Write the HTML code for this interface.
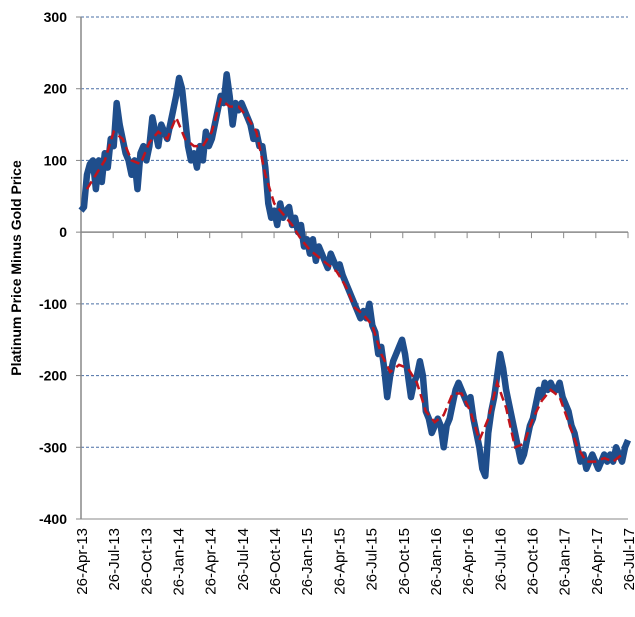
<!DOCTYPE html>
<html><head><meta charset="utf-8"><style>
body{margin:0;background:#fff}
svg{display:block;font-family:"Liberation Sans",sans-serif}
</style></head><body>
<svg id="chart" width="635" height="617"></svg>
<script>
const yTicks=[300,200,100,0,-100,-200,-300,-400];
const xLabels=["26-Apr-13","26-Jul-13","26-Oct-13","26-Jan-14","26-Apr-14","26-Jul-14","26-Oct-14","26-Jan-15","26-Apr-15","26-Jul-15","26-Oct-15","26-Jan-16","26-Apr-16","26-Jul-16","26-Oct-16","26-Jan-17","26-Apr-17","26-Jul-17"];
const spread=[30,35,80,95,100,60,100,70,110,90,130,120,180,150,130,110,100,80,100,60,110,120,100,120,160,140,120,150,140,130,150,170,190,215,200,160,120,100,110,90,120,100,140,120,130,150,170,190,180,220,190,150,180,170,180,170,160,150,130,140,120,120,90,40,20,30,10,40,20,30,35,10,20,0,10,-20,-10,-30,-10,-40,-20,-30,-40,-50,-30,-40,-50,-45,-60,-70,-80,-90,-100,-110,-120,-110,-120,-100,-130,-140,-170,-160,-190,-230,-200,-180,-170,-160,-150,-170,-200,-230,-210,-200,-180,-200,-250,-260,-280,-270,-260,-270,-300,-270,-260,-240,-220,-210,-220,-230,-240,-230,-260,-280,-300,-330,-340,-280,-250,-230,-200,-170,-190,-220,-240,-260,-280,-300,-320,-310,-290,-270,-260,-240,-220,-230,-210,-220,-210,-220,-220,-210,-230,-240,-250,-270,-280,-300,-320,-310,-330,-320,-310,-320,-330,-320,-310,-320,-310,-320,-300,-310,-320,-300,-290];
const movingAvg=[60,80,100,140,130,100,95,125,140,130,160,130,120,120,140,185,175,175,160,140,80,40,25,10,-10,-25,-35,-45,-55,-75,-105,-115,-130,-170,-195,-185,-190,-210,-250,-265,-255,-225,-225,-250,-290,-260,-210,-245,-300,-295,-260,-235,-220,-230,-265,-300,-320,-320,-315,-320,-310];
const NS="http://www.w3.org/2000/svg";
const svg=document.getElementById('chart');
const X0=81,X1=628,Y0=17,Y1=519;
const nPts=spread.length;
function xs(i){return X0+i*(X1-X0)/(nPts-1);}
function ys(v){return Y0+(300-v)*(Y1-Y0)/700;}
function mk(t,a){const e=document.createElementNS(NS,t);for(const k in a)e.setAttribute(k,a[k]);svg.appendChild(e);return e;}
yTicks.forEach(v=>{
  if(v!==0 && v!==-400){const g=mk('line',{x1:X0,x2:X1,y1:ys(v),y2:ys(v),stroke:'#4a6fa5','stroke-width':1,'stroke-dasharray':'3,2'});
  
  }
  const t=mk('text',{x:67,y:ys(v)+5,'text-anchor':'end','font-size':14,'font-weight':'bold',fill:'#000'});
  t.textContent=v;
  
  
});
const ya=mk('line',{x1:X0,x2:X0,y1:Y0,y2:Y1,stroke:'#888','stroke-width':1.5});


const xa=mk('line',{x1:X0,x2:X1,y1:ys(0),y2:ys(0),stroke:'#888','stroke-width':1.5});


const xb=mk('line',{x1:X0,x2:X1,y1:Y1,y2:Y1,stroke:'#888','stroke-width':1});


yTicks.forEach(v=>{const l=mk('line',{x1:X0-5,x2:X0,y1:ys(v),y2:ys(v),stroke:'#888'});

});
const qStep=(X1-X0)/(xLabels.length-1);
xLabels.forEach((s,i)=>{
  const x=X0+i*qStep;
  const tk=mk('line',{x1:x,x2:x,y1:ys(0),y2:ys(0)+6,stroke:'#888'});
  
  
  const t=mk('text',{x:0,y:0,transform:`translate(${x+6},528) rotate(-90)`,'text-anchor':'end','font-size':15,fill:'#000'});
  t.textContent=s;
  
  
});
const yl=mk('text',{x:0,y:0,transform:'translate(21,268) rotate(-90)','text-anchor':'middle','font-size':14,'font-weight':'bold',fill:'#000'});
yl.textContent='Platinum Price Minus Gold Price';


const p=mk('polyline',{points:spread.map((v,i)=>xs(i)+','+ys(v)).join(' '),fill:'none',stroke:'#1f4e8c','stroke-width':6.5,'stroke-linejoin':'round'});


const m=mk('polyline',{points:movingAvg.map((v,i)=>xs(2+i*3)+','+ys(v)).join(' '),fill:'none',stroke:'#c0141c','stroke-width':2.5,'stroke-dasharray':'9,5'});


</script>
</body></html>
